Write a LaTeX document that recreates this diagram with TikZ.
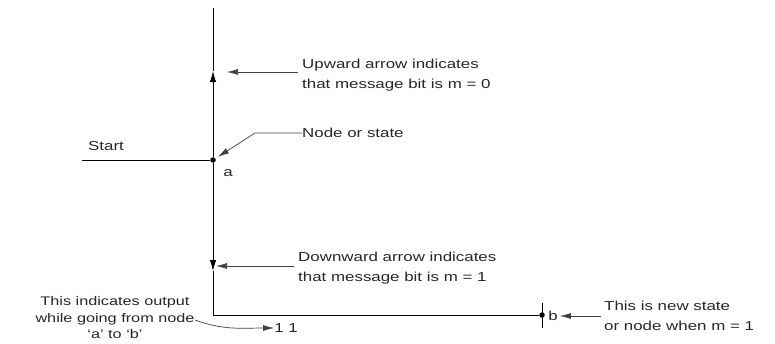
\documentclass[tikz,border=0pt]{standalone}
\usepackage{fontspec}
\setmainfont[FakeStretch=1.3]{Liberation Sans}
\usetikzlibrary{arrows.meta, positioning}

\begin{document}
\begin{tikzpicture}[
    x=1pt, y=-1pt,
    >=Latex,
    state style/.style={circle, fill=black, inner sep=0pt, minimum size=5.5pt},
    label style/.style={font=\fontsize{13}{20}\selectfont, text=black!85, inner sep=0pt},
    trellis style/.style={line width=0.9pt},
    head style/.style={line width=0.9pt, -{Latex[length=11pt, width=6.5pt]}},
    pointer style/.style={line width=0.7pt, black!75, -{Latex[length=11pt, width=6pt]}}
]

% Fix the frame
\useasboundingbox (0,0) rectangle (775,343);

% Draw the states and the corner points
\coordinate (top) at (213,8);
\coordinate (start) at (82,160);
\node[state style] (a) at (213,160) {};
\coordinate (upmid) at (213,71);
\coordinate (downmid) at (213,271);
\coordinate (corner) at (213,315);
\node[state style] (b) at (542,315) {};

% Draw the branches
\draw[trellis style] (start) -- (a);
\draw[head style] (a) -- (upmid);
\draw[trellis style] (upmid) -- (top);
\draw[head style] (a) -- (downmid);
\draw[trellis style] (downmid) -- (corner) -- (b);
\draw[trellis style] ([yshift=12pt]b.center) -- ([yshift=-13pt]b.center);

% Add labels for the states
\node[label style] (start text) at (106,146) {Start};
\node[label style] (a label) at (228,173) {a};
\node[label style] (b label) at (553,316) {b};
\node[label style] (ones) at (286,328) {1 1};

% Add the notes
\node[label style, anchor=west, align=left] (up text) at (302,75)
    {Upward arrow indicates\\that message bit is m = 0};
\node[label style, anchor=west] (node text) at (302,133) {Node or state};
\node[label style, anchor=west, align=left] (down text) at (298,268)
    {Downward arrow indicates\\that message bit is m = 1};
\node[label style, anchor=center, align=center,
      font=\fontsize{12.5}{16.5}\selectfont] (out text) at (115,318)
    {This indicates output\\while going from node\\`a' to `b'};
\node[label style, anchor=west, align=left] (new text) at (604,316)
    {This is new state\\or node when m = 1};

% Draw the pointers
\coordinate (up tail) at (298,72);
\coordinate (up tip) at (227,72);
\draw[pointer style] (up tail) -- (up tip);
\coordinate (node bend) at (255,133);
\draw[pointer style, shorten >=3pt] (node text.west) -- (node bend) -- (a);
\coordinate (down tail) at (294,266);
\coordinate (down tip) at (216,266);
\draw[pointer style] (down tail) -- (down tip);
\coordinate (out tail) at (195,320);
\draw[pointer style] (out tail) to[out=-20, in=180] (ones.west);
\draw[pointer style, shorten >=2pt, shorten <=3pt] (new text.west) -- (b label.east);
\end{tikzpicture}
\end{document}
